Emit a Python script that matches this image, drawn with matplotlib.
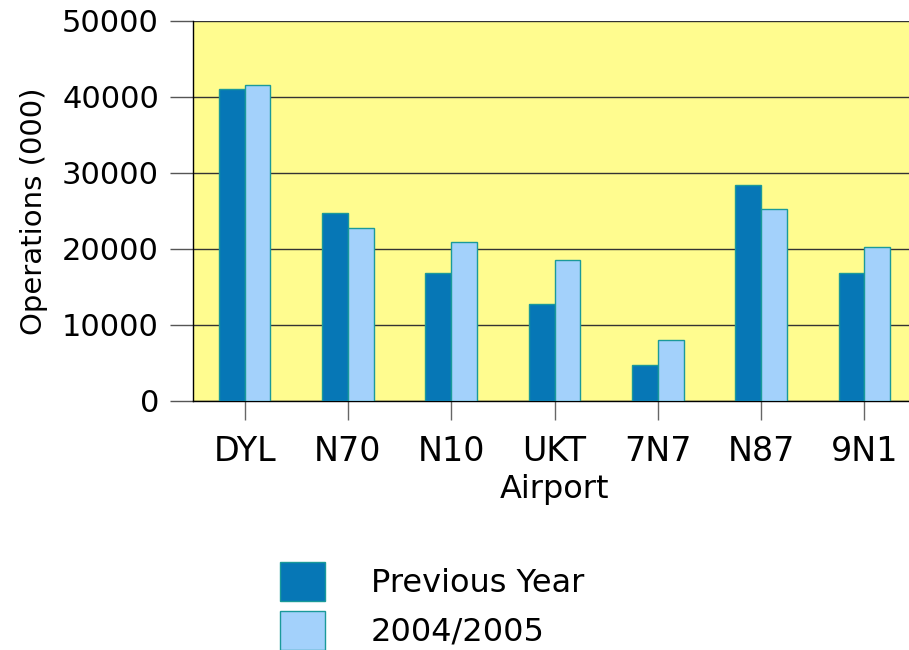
import matplotlib
matplotlib.use("Agg")
import matplotlib.pyplot as plt
import numpy as np

# airports and operations (000)
airports = ["DYL", "N70", "N10", "UKT", "7N7", "N87", "9N1"]
previous_year = [41100, 24800, 16800, 12700, 4800, 28400, 16800]
year_2004_05 = [41600, 22700, 20900, 18600, 8000, 25300, 20200]

dark_blue = "#0677b6"
light_blue = "#a3d1fb"
edge = "#1a9a9a"
yellow = "#fffc8f"

plt.rcParams['font.family'] = ['DejaVu Sans']

fig = plt.figure(figsize=(9.09, 6.5), dpi=100)
ax = fig.add_axes([193 / 909, 249 / 650, 723 / 909, 380 / 650])
ax.set_facecolor(yellow)

x = np.arange(len(airports))
w = 0.25
ax.bar(x - w / 2, previous_year, w, color=dark_blue, edgecolor=edge,
       linewidth=1.0, label="Previous Year", zorder=3)
ax.bar(x + w / 2, year_2004_05, w, color=light_blue, edgecolor=edge,
       linewidth=1.0, label="2004/2005", zorder=3)

ax.set_xlim(-0.5, len(airports) - 0.5)
ax.set_ylim(0, 50000)
ax.set_yticks(np.arange(0, 50001, 10000))
ax.set_xticks(x)
ax.set_xticklabels(airports)

ax.yaxis.grid(True, color="#333333", linewidth=1.0, zorder=1)
ax.set_axisbelow(True)

for s in ["top", "right"]:
    ax.spines[s].set_visible(False)
ax.spines["left"].set_color("black")
ax.spines["bottom"].set_color("black")
ax.spines["left"].set_linewidth(1.0)
ax.spines["bottom"].set_linewidth(1.0)

ax.tick_params(axis="y", length=16.5, width=1.0, color="#555555",
               labelsize=22, pad=8)
ax.tick_params(axis="x", length=13.5, width=1.0, color="#666666",
               labelsize=24, pad=11)

ax.set_xlabel("Airport", fontsize=23, labelpad=4)
ax.set_ylabel("Operations (000)", fontsize=21, labelpad=10)

fig.legend(loc="upper left", bbox_to_anchor=(280 / 909, 1 - 562 / 650),
           frameon=False, fontsize=23, handlelength=1.4, handleheight=1.5,
           handletextpad=1.45, labelspacing=0.3, borderpad=0, borderaxespad=0)

fig.savefig("out.png", dpi=100)
